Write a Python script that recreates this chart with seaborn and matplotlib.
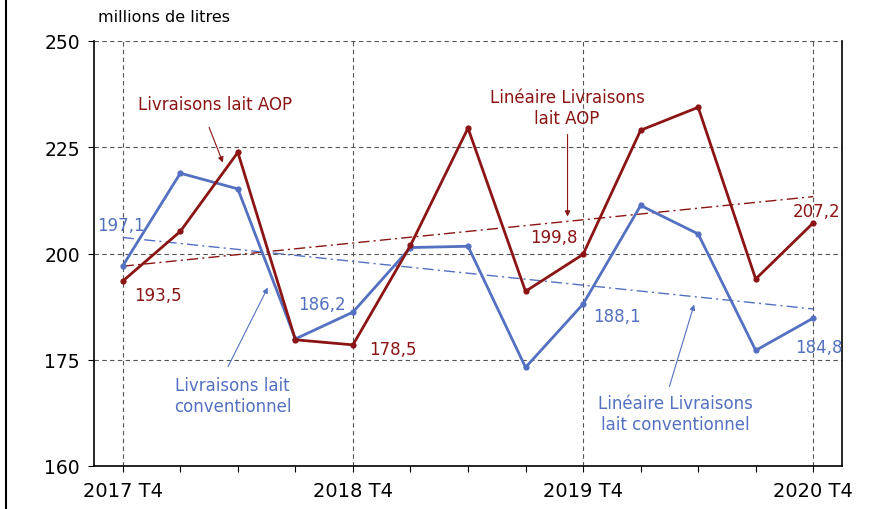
import matplotlib
matplotlib.use("Agg")
from matplotlib import pyplot as plt
from matplotlib.lines import Line2D
import numpy as np
import pandas as pd
import seaborn as sns

quarters = ["2017 T4", "2018 T1", "2018 T2", "2018 T3", "2018 T4", "2019 T1", "2019 T2",
            "2019 T3", "2019 T4", "2020 T1", "2020 T2", "2020 T3", "2020 T4"]
aop = [193.5, 205.2, 223.8, 179.7, 178.5, 201.9, 229.5, 191.1, 199.8, 229.0, 234.4, 194.0, 207.2]
conv = [197.1, 218.9, 215.2, 179.9, 186.2, 201.4, 201.7, 173.2, 188.1, 211.3, 204.6, 177.2, 184.8]
major_labels = ["2017 T4", "2018 T4", "2019 T4", "2020 T4"]
ytick_values = [150, 175, 200, 225, 250]
ytick_labels = ["160", "175", "200", "225", "250"]

red = "#8b1414"
blue = "#5470c0"

sns.set_style("white")
plt.rcParams["font.family"] = ["DejaVu Sans"]
plt.rcParams["text.color"] = "black"
plt.rcParams["xtick.color"] = "black"
plt.rcParams["ytick.color"] = "black"

df = pd.DataFrame({"idx": range(len(quarters)), "aop": aop, "conv": conv})

fig = plt.figure(figsize=(8.75, 5.1), dpi=100)
ax = fig.add_axes([94 / 875, 1 - 467 / 510, (842 - 94) / 875, (467 - 42) / 510])

sns.lineplot(data=df, x="idx", y="conv", ax=ax, color=blue, linewidth=2, marker="o",
             markersize=4.5, markeredgewidth=0, zorder=4)
sns.lineplot(data=df, x="idx", y="aop", ax=ax, color=red, linewidth=2, marker="o",
             markersize=4.5, markeredgewidth=0, zorder=5)

# linear trends
for col, c in [("aop", red), ("conv", blue)]:
    k, b = np.polyfit(df["idx"], df[col], 1)
    ax.plot(df["idx"], k * df["idx"] + b, color=c, linewidth=1, linestyle=(0, (8, 3, 1.5, 3)), zorder=3)

ax.set_xlim(-0.5, 12.5)
ax.set_ylim(150, 250)
ax.set_xticks(range(0, 13, 4))
ax.set_xticklabels(major_labels, fontsize=14)
ax.set_xticks(range(13), minor=True)
ax.set_yticks(ytick_values)
ax.set_yticklabels(ytick_labels, fontsize=13.5)
ax.set_xlabel("")
ax.set_ylabel("")
ax.tick_params(axis="x", which="both", bottom=True, direction="out", length=4, width=0.8, pad=7)
ax.tick_params(axis="y", left=True, direction="out", length=4, width=0.8, pad=6)

ax.grid(True, axis="both", which="major", linestyle=(0, (4, 3)), color="#555555", linewidth=0.8)
ax.spines["top"].set_visible(False)
for s in ["left", "bottom", "right"]:
    ax.spines[s].set_color("black")
    ax.spines[s].set_linewidth(1.2)

# value labels
fs = 12
ax.text(-0.03, 206.8, "197,1", color=blue, fontsize=fs, ha="center", va="center")
ax.text(0.61, 190.3, "193,5", color=red, fontsize=fs, ha="center", va="center")
ax.text(3.46, 188.0, "186,2", color=blue, fontsize=fs, ha="center", va="center")
ax.text(4.70, 177.6, "178,5", color=red, fontsize=fs, ha="center", va="center")
ax.text(7.50, 203.8, "199,8", color=red, fontsize=fs, ha="center", va="center")
ax.text(8.59, 185.4, "188,1", color=blue, fontsize=fs, ha="center", va="center")
ax.text(12.05, 210.1, "207,2", color=red, fontsize=fs, ha="center", va="center")
ax.text(12.09, 178.1, "184,8", color=blue, fontsize=fs, ha="center", va="center")

# series annotations
afs = 12
arrow = dict(arrowstyle="-|>", color=red, linewidth=0.8, mutation_scale=8, shrinkA=0, shrinkB=0)
ax.text(1.6, 235.1, "Livraisons lait AOP", color=red, fontsize=afs, ha="center", va="center")
ax.annotate("", xy=(1.74, 221.4), xytext=(1.50, 229.7), arrowprops=arrow)
ax.text(7.72, 234.4, "Linéaire Livraisons\nlait AOP", color=red, fontsize=afs, ha="center", va="center",
        linespacing=1.2)
ax.annotate("", xy=(7.73, 208.7), xytext=(7.73, 228.0), arrowprops=arrow)
arrow_b = dict(arrowstyle="-|>", color=blue, linewidth=0.8, mutation_scale=8, shrinkA=0, shrinkB=0)
ax.text(1.91, 166.5, "Livraisons lait\nconventionnel", color=blue, fontsize=afs, ha="center", va="center",
        linespacing=1.2)
ax.annotate("", xy=(2.52, 192.0), xytext=(1.83, 173.4), arrowprops=arrow_b)
ax.text(9.6, 162.3, "Linéaire Livraisons\nlait conventionnel", color=blue, fontsize=afs, ha="center", va="center",
        linespacing=1.2)
ax.annotate("", xy=(9.93, 188.0), xytext=(9.50, 168.7), arrowprops=arrow_b)

fig.text(98 / 875, 1 - 18 / 510, "millions de litres", fontsize=11.5, ha="left", va="center")
fig.add_artist(Line2D([6 / 875, 6 / 875], [0, 1], color="black", linewidth=1.5))

fig.savefig("out.png", dpi=100)
